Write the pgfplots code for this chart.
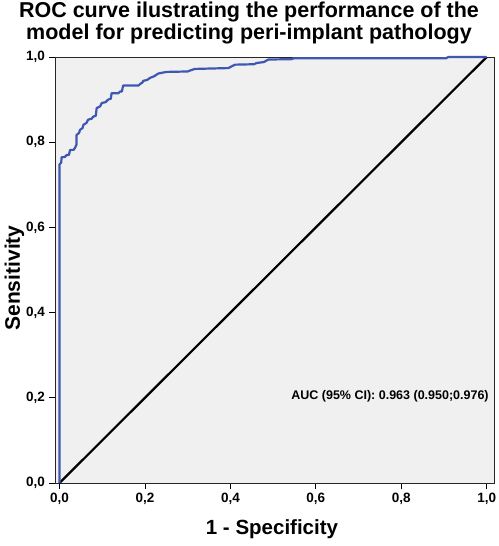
\documentclass[border=0pt]{standalone}
\usepackage{pgfplots}
\pgfplotsset{compat=1.18}
\usepackage{fontspec}
\setmainfont{Liberation Sans}
\definecolor{roc}{RGB}{62,88,178}
\definecolor{panel}{RGB}{240,240,240}
\begin{document}
\begin{tikzpicture}[x=1pt,y=1pt]
\useasboundingbox (0,0) rectangle (498,546);
\begin{axis}[
  at={(55pt,63pt)}, anchor=south west,
  scale only axis, width=439pt, height=426pt,
  xmin=-0.0105, xmax=1.017, ymin=0, ymax=1,
  axis background/.style={fill=panel},
  axis line style={black!85, line width=0.9pt},
  xtick={0,0.2,0.4,0.6,0.8,1.0},
  ytick={0,0.2,0.4,0.6,0.8,1.0},
  tick align=outside, tick pos=left,
  major tick length=6pt,
  tick style={black, line width=0.8pt},
  /pgf/number format/.cd, fixed, fixed zerofill, precision=1, use comma, assume math mode=true,
  /pgfplots/.cd,
  tick label style={font=\bfseries\fontsize{13.5}{15}\selectfont},
  xticklabel style={yshift=-1pt},
  yticklabel style={xshift=-0.5pt},
  clip=false,
]
% reference diagonal
\addplot[black, line width=2.2pt] coordinates {(0,0) (1,1)};
% empirical ROC curve
\addplot[roc, line width=2.2pt, line join=round] coordinates {
(0,0) (0,0.748) (0.004,0.752) (0.005,0.765) (0.012,0.765) (0.017,0.770)
(0.022,0.770) (0.025,0.782) (0.033,0.782) (0.036,0.786) (0.040,0.795)
(0.040,0.817) (0.046,0.822) (0.048,0.829) (0.054,0.833) (0.056,0.841)
(0.063,0.845) (0.067,0.853) (0.075,0.855) (0.079,0.860) (0.085,0.862)
(0.087,0.880) (0.095,0.884) (0.099,0.892) (0.108,0.894) (0.114,0.900)
(0.120,0.902) (0.122,0.915) (0.138,0.915) (0.142,0.919) (0.146,0.919)
(0.149,0.933) (0.185,0.933) (0.189,0.937) (0.194,0.940) (0.196,0.944)
(0.205,0.946) (0.212,0.951) (0.222,0.955) (0.231,0.961) (0.240,0.963)
(0.251,0.965) (0.300,0.966) (0.305,0.968) (0.317,0.972) (0.396,0.974)
(0.399,0.976) (0.411,0.982) (0.455,0.983) (0.462,0.986) (0.478,0.988)
(0.489,0.994) (0.545,0.995) (0.547,0.997) (0.905,0.997) (0.910,1.0)
(1.0,1.0)
};
\node[anchor=east, font=\bfseries\fontsize{12.5}{14}\selectfont, inner sep=0pt]
  at (axis cs:1.005,0.204) {AUC (95\% CI): 0.963 (0.950;0.976)};
\end{axis}
\node[align=center, font=\bfseries\fontsize{21.5}{21.5}\selectfont, inner sep=0pt, anchor=north]
  at (249,544) {ROC curve ilustrating the performance of the\\model for predicting peri-implant pathology};
\node[font=\bfseries\fontsize{20.5}{22}\selectfont, inner sep=0pt, anchor=base]
  at (272,12) {1 - Specificity};
\node[font=\bfseries\fontsize{21}{22}\selectfont, inner sep=0pt, rotate=90, anchor=base]
  at (20,268) {Sensitivity};
\end{tikzpicture}
\end{document}
